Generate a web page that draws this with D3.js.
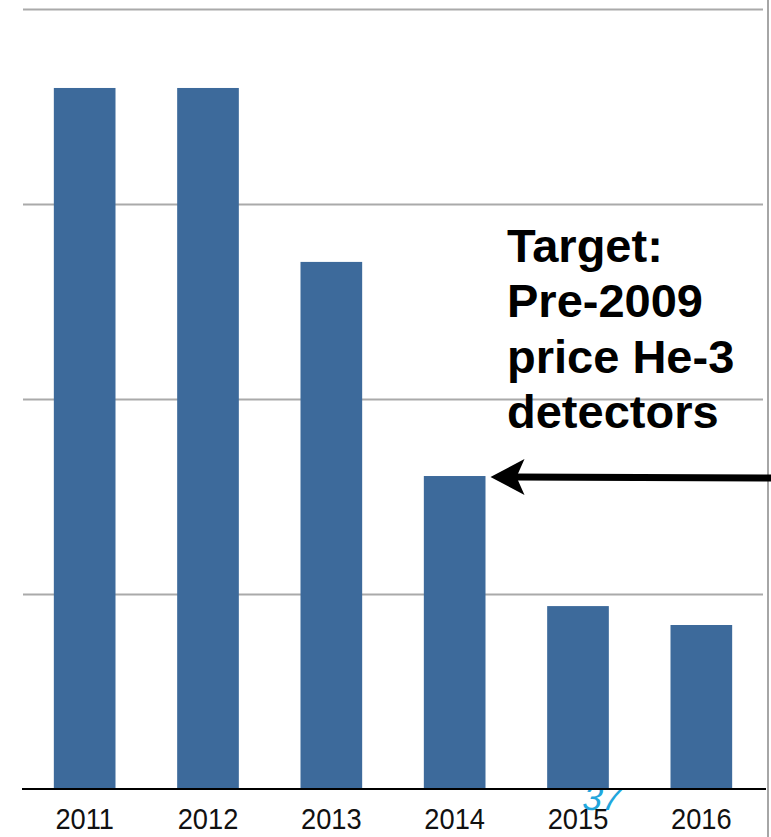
<!DOCTYPE html>
<html>
<head>
<meta charset="utf-8">
<script src="https://cdn.jsdelivr.net/npm/d3@7"></script>
<style>
  body { margin: 0; background: #fff; }
  svg { display: block; font-family: "Liberation Sans", Arial, Helvetica, sans-serif; }
</style>
</head>
<body>
<svg id="chart"></svg>
<script>
// data (units = one gridline step)
var years = ["2011", "2012", "2013", "2014", "2015", "2016"];
var prices = [3.595, 3.595, 2.703, 1.605, 0.938, 0.841];
var gridTicks = [1, 2, 3, 4];
var noteLines = ["Target:", "Pre-2009", "price He-3", "detectors"];
var pageNumber = "37";

var svgWidth = 771,
    svgHeight = 837;

// setup margins of bar chart
var margin = {top: 9, right: 8, bottom: 48, left: 23},
    plotRight = 763,
    baseY = svgHeight - margin.bottom;

var svg = d3.select("#chart")
  .attr("width", svgWidth)
  .attr("height", svgHeight);

var xScale = d3.scaleBand()
  .domain(years)
  .range([margin.left, plotRight])
  .paddingInner(0.5)
  .paddingOuter(0.25);

var yScale = d3.scaleLinear()
  .domain([0, 4])
  .range([baseY, margin.top]);

// slide page number, top part hidden behind the chart area
svg.append("text")
  .attr("x", 583)
  .attr("y", 810)
  .attr("fill", "#22a6dc")
  .attr("font-size", 35)
  .attr("font-style", "italic")
  .attr("font-weight", 300)
  .attr("transform", "skewX(-6) translate(84,0)")
  .text(pageNumber);

svg.append("rect")
  .attr("x", 0)
  .attr("y", 0)
  .attr("width", plotRight + 4)
  .attr("height", baseY)
  .attr("fill", "#fff");

// gridlines
svg.append("g")
  .selectAll("line")
  .data(gridTicks)
  .enter()
  .append("line")
  .attr("x1", margin.left)
  .attr("x2", plotRight)
  .attr("y1", function(d) { return yScale(d) + 0.5; })
  .attr("y2", function(d) { return yScale(d) + 0.5; })
  .attr("stroke", "#aaaaaa")
  .attr("stroke-width", 2.2);

// bars
svg.append("g")
  .selectAll("rect")
  .data(prices)
  .enter()
  .append("rect")
  .attr("class", "rects")
  .attr("x", function(d, i) { return xScale(years[i]); })
  .attr("y", function(d) { return yScale(d); })
  .attr("width", xScale.bandwidth())
  .attr("height", function(d) { return baseY - yScale(d); })
  .attr("fill", "#3d6a9b");

// x axis: baseline + year labels
var xAxis = svg.append("g")
  .attr("transform", "translate(0," + baseY + ")")
  .call(d3.axisBottom(xScale).tickSize(0).tickPadding(19));

xAxis.select(".domain")
  .attr("d", "M" + (margin.left - 1) + ",0H" + (plotRight + 3))
  .attr("stroke", "#000")
  .attr("stroke-width", 2);

xAxis.selectAll("text")
  .attr("font-size", 29)
  .attr("font-family", "Liberation Sans, Arial, sans-serif")
  .attr("fill", "#111")
  .attr("transform", "scale(0.94,1)")
  .attr("dy", "0.71em");

// right frame line
svg.append("line")
  .attr("x1", 768)
  .attr("x2", 768)
  .attr("y1", 0)
  .attr("y2", svgHeight)
  .attr("stroke", "#888")
  .attr("stroke-width", 1.5);

// annotation text
svg.append("g")
  .selectAll("text")
  .data(noteLines)
  .enter()
  .append("text")
  .attr("x", 507)
  .attr("y", function(d, i) { return 262 + i * 55.3; })
  .attr("font-size", 47)
  .attr("font-weight", "bold")
  .attr("fill", "#000")
  .text(function(d) { return d; });

// arrow pointing at the 2014 bar
var tipX = xScale("2014") + xScale.bandwidth() + 5,
    tipY = yScale(prices[3]) + 1;

svg.append("line")
  .attr("x1", svgWidth)
  .attr("x2", tipX + 24)
  .attr("y1", tipY + 1)
  .attr("y2", tipY)
  .attr("stroke", "#000")
  .attr("stroke-width", 7);

svg.append("path")
  .attr("d", "M" + tipX + "," + tipY +
             "L" + (tipX + 34) + "," + (tipY - 18) +
             "L" + (tipX + 26) + "," + tipY +
             "L" + (tipX + 34) + "," + (tipY + 18) + "Z")
  .attr("fill", "#000");
</script>
</body>
</html>
